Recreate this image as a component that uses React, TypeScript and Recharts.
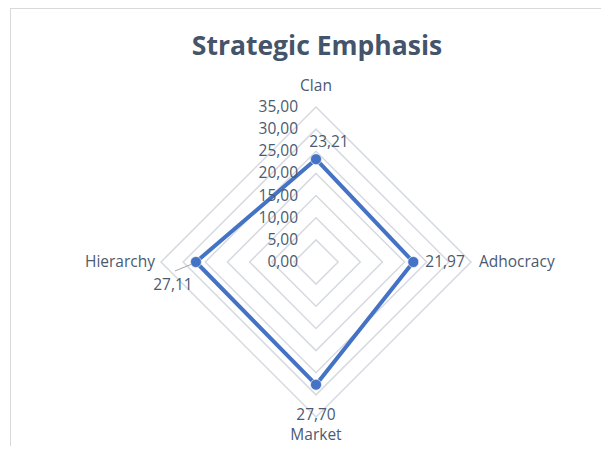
import React from "react";
import { RadarChart, Radar, PolarGrid, PolarAngleAxis, PolarRadiusAxis } from "recharts";

// Strategic emphasis scores (culture types)
const categories = ["Clan", "Adhocracy", "Market", "Hierarchy"];
const scores = [23.21, 21.97, 27.7, 27.11];
const radiusTicks = [0, 5, 10, 15, 20, 25, 30, 35];

const data = categories.map((name, i) => ({ name, value: scores[i] }));

const CX = 305;
const CY = 253;
const OUTER = 155;
const FONT = "'Open Sans', Lato, sans-serif";
const TEXT = "#4B5A70";
const BLUE = "#4472C4";

const fmt = (v: number) => v.toFixed(2).replace(".", ",");

const AngleTick = (props: any) => {
  const { x, y, payload } = props;
  let anchor = "middle";
  let tx = x;
  let ty = y;
  if (Math.abs(x - CX) < 2) {
    ty = y < CY ? y - 8 : y + 15;
  } else if (x > CX) {
    anchor = "start";
    ty = y + 5;
  } else {
    anchor = "end";
    tx = x + 2;
    ty = y + 5;
  }
  return (
    <text x={tx} y={ty} textAnchor={anchor} fill={TEXT} fontSize={15.5} fontFamily={FONT}>
      {payload.value}
    </text>
  );
};

const RadiusTick = (props: any) => {
  const { x, y, payload } = props;
  return (
    <text x={x - 18} y={y + 5} textAnchor="end" fill={TEXT} fontSize={15.5} fontFamily={FONT}>
      {fmt(payload.value)}
    </text>
  );
};

// marker + data label drawn together
const Dot = (props: any) => {
  const { cx, cy, index } = props;
  const label = fmt(scores[index]);
  let el: React.ReactNode = null;
  if (Math.abs(cx - CX) < 2 && cy < CY) {
    el = (
      <text x={cx + 13} y={cy - 12} textAnchor="middle" fill={TEXT} fontSize={15.5} fontFamily={FONT}>
        {label}
      </text>
    );
  } else if (Math.abs(cx - CX) < 2) {
    el = (
      <text x={cx} y={cy + 35} textAnchor="middle" fill={TEXT} fontSize={15.5} fontFamily={FONT}>
        {label}
      </text>
    );
  } else if (cx > CX) {
    el = (
      <text x={cx + 12} y={cy + 5} textAnchor="start" fill={TEXT} fontSize={15.5} fontFamily={FONT}>
        {label}
      </text>
    );
  } else {
    el = (
      <g>
        <line x1={cx - 4} y1={cy + 2} x2={cx - 21} y2={cy + 9} stroke="#A6A6A6" strokeWidth={1} />
        <text x={cx - 23} y={cy + 28} textAnchor="middle" fill={TEXT} fontSize={15.5} fontFamily={FONT}>
          {label}
        </text>
      </g>
    );
  }
  return (
    <g key={`dot-${index}`}>
      <circle cx={cx} cy={cy} r={5.5} fill={BLUE} stroke="#ffffff" strokeOpacity={0.6} strokeWidth={1} />
      {el}
    </g>
  );
};

export default function App() {
  return (
    <div
      style={{
        position: "relative",
        marginLeft: 2,
        width: 597,
        height: 437,
        borderTop: "1px solid #D9D9D9",
        borderLeft: "1px solid #D9D9D9",
        overflow: "hidden",
        background: "#fff",
      }}
    >
      <div
        style={{
          position: "absolute",
          left: 0,
          top: 19,
          width: 612,
          textAlign: "center",
          fontFamily: FONT,
          fontWeight: 700,
          fontSize: 26.5,
          lineHeight: "34px",
          color: "#44546A",
        }}
      >
        Strategic Emphasis
      </div>
      <RadarChart
        width={597}
        height={437}
        data={data}
        cx={CX}
        cy={CY}
        outerRadius={OUTER}
        style={{ position: "absolute", left: 0, top: 0 }}
      >
        <PolarGrid gridType="polygon" radialLines={false} stroke="#D6DAE0" strokeWidth={1.5} />
        <PolarAngleAxis dataKey="name" tick={<AngleTick />} tickLine={false} axisLine={false} />
        <PolarRadiusAxis
          angle={90}
          domain={[0, 35]}
          ticks={radiusTicks as any}
          tickCount={8}
          axisLine={false}
          tick={<RadiusTick />}
        />
        <Radar
          dataKey="value"
          stroke={BLUE}
          strokeWidth={4}
          fill="none"
          fillOpacity={0}
          strokeLinejoin="round"
          dot={<Dot />}
          isAnimationActive={false}
        />
      </RadarChart>
    </div>
  );
}
